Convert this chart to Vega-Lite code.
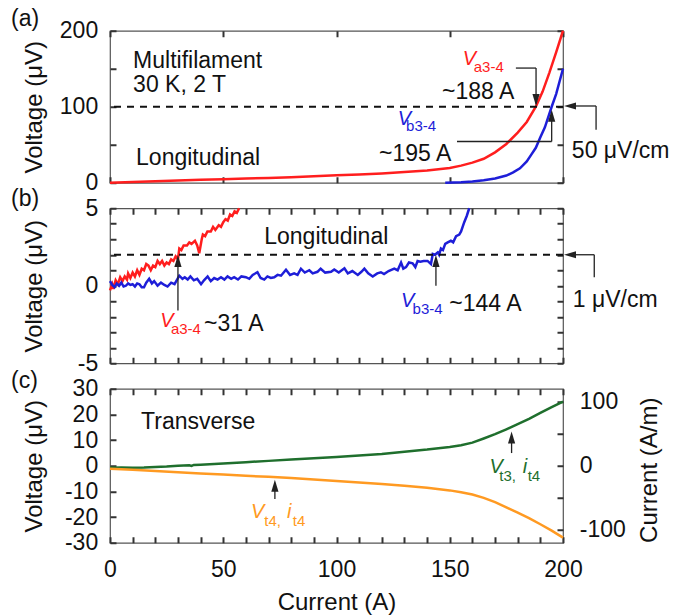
{
"$schema": "https://vega.github.io/schema/vega-lite/v6.json",
"padding": {"left": 10, "top": 7.75, "right": 2, "bottom": 2},
"background": "white",
"config": {
  "font": "Liberation Sans",
  "view": {"stroke": "#555", "strokeWidth": 1.2, "fill": null},
  "axis": {"grid": false, "zindex": 1, "offset": -6, "domain": false, "tickColor": "#333", "tickWidth": 2, "tickSize": 6, "ticks": true, "tickOpacity": 1, "labelFontSize": 23, "labelColor": "#111", "titleFontSize": 24, "titleFontWeight": "normal", "titleColor": "#111", "labelOverlap": false, "labelFlush": false, "labelBound": false},
  "axisLeft": {"labelPadding": 12.3},
  "axisBottom": {"labelPadding": 15.3},
  "axisRight": {"labelPadding": 16.3},
  "axisTop": {"labelPadding": 10},
  "text": {"align": "left", "baseline": "alphabetic"}
},
"datasets": {
  "aCurves": [
    {"I":0,"V":0,"s":"a"},{"I":10,"V":1,"s":"a"},{"I":20,"V":2,"s":"a"},{"I":30,"V":3,"s":"a"},{"I":40,"V":3.8,"s":"a"},{"I":50,"V":4.6,"s":"a"},{"I":60,"V":5.5,"s":"a"},{"I":70,"V":6.4,"s":"a"},{"I":80,"V":7.4,"s":"a"},{"I":90,"V":8.5,"s":"a"},{"I":100,"V":9.8,"s":"a"},{"I":110,"V":11,"s":"a"},{"I":120,"V":12.3,"s":"a"},{"I":130,"V":14,"s":"a"},{"I":140,"V":16.2,"s":"a"},{"I":150,"V":19.5,"s":"a"},{"I":155,"V":22.5,"s":"a"},{"I":160,"V":26.5,"s":"a"},{"I":165,"V":31.5,"s":"a"},{"I":170,"V":40,"s":"a"},{"I":175,"V":51,"s":"a"},{"I":180,"V":66,"s":"a"},{"I":184,"V":80,"s":"a"},{"I":188,"V":100,"s":"a"},{"I":191,"V":120,"s":"a"},{"I":194,"V":145,"s":"a"},{"I":197,"V":172,"s":"a"},{"I":200,"V":200,"s":"a"},
    {"I":148,"V":0,"s":"b"},{"I":155,"V":0.8,"s":"b"},{"I":160,"V":1.8,"s":"b"},{"I":165,"V":3.2,"s":"b"},{"I":170,"V":5.5,"s":"b"},{"I":175,"V":9.5,"s":"b"},{"I":178,"V":13.6,"s":"b"},{"I":181,"V":19,"s":"b"},{"I":184,"V":28,"s":"b"},{"I":186,"V":37,"s":"b"},{"I":188,"V":46,"s":"b"},{"I":190,"V":60,"s":"b"},{"I":192,"V":73,"s":"b"},{"I":195,"V":100,"s":"b"},{"I":197,"V":117,"s":"b"},{"I":200,"V":150,"s":"b"}
  ],
  "aSeg": [
    {"x":179.2,"x2":188.1,"y":150.9,"y2":150.9},{"x":188.1,"x2":188.1,"y":150.9,"y2":104},
    {"x":153.2,"x2":195,"y":54.3,"y2":54.3},{"x":195,"x2":195,"y":54.3,"y2":92},
    {"x":214.6,"x2":214.6,"y":69.7,"y2":101},{"x":214.6,"x2":203,"y":101,"y2":101}
  ],
  "aHeads": [{"x":188.1,"y":109,"d":"down"},{"x":195,"y":88.2,"d":"up"},{"x":203.1,"y":101,"d":"left"}],
  "aText": [
    {"x":-43.7,"y":205.6,"t":"(a)","s":"n"},{"x":10.2,"y":150.9,"t":"Multifilament","s":"n"},{"x":10.2,"y":120,"t":"30 K, 2 T","s":"n"},{"x":11.5,"y":23.7,"t":"Longitudinal","s":"n"},{"x":146.6,"y":110.1,"t":"~188 A","s":"n"},{"x":118.8,"y":29,"t":"~195 A","s":"n"},{"x":203.9,"y":32.5,"t":"50 μV/cm","s":"n"}
  ],
  "aV": [{"x":155.7,"y":155.3,"t":"V","s":"a"},{"x":127,"y":76.3,"t":"V","s":"b"}],
  "aSub": [{"x":160.6,"y":145.7,"t":"a3-4","s":"a"},{"x":130.7,"y":67.5,"t":"b3-4","s":"b"}],
  "bCurves": [
    {"I":0,"V":-0.3,"s":"a"},{"I":1,"V":0.1,"s":"a"},{"I":1.5,"V":-0.2,"s":"a"},{"I":2.5,"V":0.35,"s":"a"},{"I":3.5,"V":0.1,"s":"a"},{"I":4.5,"V":0.55,"s":"a"},{"I":5.5,"V":0.3,"s":"a"},{"I":6.5,"V":0.6,"s":"a"},{"I":7.5,"V":0.4,"s":"a"},{"I":8,"V":0.8,"s":"a"},{"I":9,"V":0.5,"s":"a"},{"I":10,"V":0.85,"s":"a"},{"I":11,"V":0.6,"s":"a"},{"I":12,"V":1.0,"s":"a"},{"I":13,"V":0.7,"s":"a"},{"I":14,"V":1.1,"s":"a"},{"I":15,"V":1.0,"s":"a"},{"I":16,"V":1.4,"s":"a"},{"I":17,"V":1.3,"s":"a"},{"I":18,"V":1.0,"s":"a"},{"I":19,"V":1.3,"s":"a"},{"I":20,"V":1.2,"s":"a"},{"I":21,"V":1.6,"s":"a"},{"I":22,"V":1.4,"s":"a"},{"I":23,"V":1.6,"s":"a"},{"I":24,"V":1.3,"s":"a"},{"I":25,"V":1.5,"s":"a"},{"I":26,"V":1.4,"s":"a"},{"I":27,"V":1.7,"s":"a"},{"I":28,"V":1.6,"s":"a"},{"I":29,"V":1.9,"s":"a"},{"I":30,"V":1.7,"s":"a"},{"I":30.6,"V":2.4,"s":"a"},{"I":31.5,"V":2.3,"s":"a"},{"I":32.5,"V":2.6,"s":"a"},{"I":34,"V":2.6,"s":"a"},{"I":35,"V":2.8,"s":"a"},{"I":36,"V":2.7,"s":"a"},{"I":37.5,"V":2.9,"s":"a"},{"I":38.5,"V":2.6,"s":"a"},{"I":39.4,"V":2.1,"s":"a"},{"I":40.5,"V":3.0,"s":"a"},{"I":41,"V":3.3,"s":"a"},{"I":42,"V":3.2,"s":"a"},{"I":43,"V":3.5,"s":"a"},{"I":44.5,"V":3.5,"s":"a"},{"I":45.5,"V":3.8,"s":"a"},{"I":46.5,"V":3.6,"s":"a"},{"I":48,"V":3.9,"s":"a"},{"I":49,"V":3.8,"s":"a"},{"I":50,"V":4.1,"s":"a"},{"I":51,"V":4.3,"s":"a"},{"I":52,"V":4.2,"s":"a"},{"I":53,"V":4.6,"s":"a"},{"I":54,"V":4.5,"s":"a"},{"I":55,"V":4.8,"s":"a"},{"I":56,"V":4.7,"s":"a"},{"I":57,"V":5.0,"s":"a"},
    {"I":0,"V":0.3,"s":"b"},{"I":1,"V":0.05,"s":"b"},{"I":2,"V":-0.1,"s":"b"},{"I":3,"V":0.15,"s":"b"},{"I":4,"V":0.0,"s":"b"},{"I":5,"V":0.2,"s":"b"},{"I":6,"V":-0.05,"s":"b"},{"I":7,"V":0.0,"s":"b"},{"I":8,"V":0.15,"s":"b"},{"I":9,"V":0.05,"s":"b"},{"I":10,"V":0.1,"s":"b"},{"I":11,"V":-0.05,"s":"b"},{"I":12,"V":0.15,"s":"b"},{"I":13,"V":0.1,"s":"b"},{"I":14,"V":-0.1,"s":"b"},{"I":15,"V":-0.1,"s":"b"},{"I":16,"V":0.2,"s":"b"},{"I":17.3,"V":0.45,"s":"b"},{"I":18.5,"V":0.15,"s":"b"},{"I":19.5,"V":0.3,"s":"b"},{"I":21,"V":0.0,"s":"b"},{"I":22.5,"V":0.2,"s":"b"},{"I":24,"V":0.05,"s":"b"},{"I":25.4,"V":-0.05,"s":"b"},{"I":27,"V":0.2,"s":"b"},{"I":28.5,"V":0.1,"s":"b"},{"I":30.6,"V":0.65,"s":"b"},{"I":32,"V":0.45,"s":"b"},{"I":33,"V":0.55,"s":"b"},{"I":34.3,"V":0.4,"s":"b"},{"I":35.5,"V":0.6,"s":"b"},{"I":37,"V":0.35,"s":"b"},{"I":38.5,"V":0.45,"s":"b"},{"I":40.2,"V":0.1,"s":"b"},{"I":41.5,"V":0.35,"s":"b"},{"I":43.1,"V":0.6,"s":"b"},{"I":44.5,"V":0.3,"s":"b"},{"I":46,"V":0.5,"s":"b"},{"I":47.5,"V":0.4,"s":"b"},{"I":49,"V":0.55,"s":"b"},{"I":50.5,"V":0.4,"s":"b"},{"I":51.9,"V":0.6,"s":"b"},{"I":53.5,"V":0.45,"s":"b"},{"I":54.8,"V":0.55,"s":"b"},{"I":56.5,"V":0.4,"s":"b"},{"I":58,"V":0.6,"s":"b"},{"I":60,"V":0.55,"s":"b"},{"I":61.5,"V":0.45,"s":"b"},{"I":63,"V":0.7,"s":"b"},{"I":65.1,"V":0.87,"s":"b"},{"I":66.5,"V":0.5,"s":"b"},{"I":68.1,"V":0.4,"s":"b"},{"I":69.5,"V":0.6,"s":"b"},{"I":71,"V":0.5,"s":"b"},{"I":72.5,"V":0.55,"s":"b"},{"I":74,"V":0.7,"s":"b"},{"I":75.5,"V":0.65,"s":"b"},{"I":77.7,"V":1.04,"s":"b"},{"I":79.5,"V":0.7,"s":"b"},{"I":81.3,"V":0.8,"s":"b"},{"I":82.8,"V":0.7,"s":"b"},{"I":84.3,"V":1.1,"s":"b"},{"I":86,"V":0.85,"s":"b"},{"I":88,"V":1.0,"s":"b"},{"I":89.5,"V":0.8,"s":"b"},{"I":91.6,"V":0.9,"s":"b"},{"I":93,"V":1.1,"s":"b"},{"I":95,"V":0.85,"s":"b"},{"I":97.6,"V":0.9,"s":"b"},{"I":99,"V":1.05,"s":"b"},{"I":101,"V":0.85,"s":"b"},{"I":103.5,"V":1.13,"s":"b"},{"I":105,"V":0.8,"s":"b"},{"I":107,"V":0.95,"s":"b"},{"I":109.4,"V":0.7,"s":"b"},{"I":111,"V":0.9,"s":"b"},{"I":112.3,"V":1.1,"s":"b"},{"I":114,"V":0.8,"s":"b"},{"I":116,"V":0.6,"s":"b"},{"I":118,"V":0.8,"s":"b"},{"I":119.6,"V":0.87,"s":"b"},{"I":121,"V":0.75,"s":"b"},{"I":123,"V":0.95,"s":"b"},{"I":125.5,"V":1.1,"s":"b"},{"I":127,"V":1.0,"s":"b"},{"I":128.5,"V":1.5,"s":"b"},{"I":129.5,"V":1.1,"s":"b"},{"I":130.7,"V":1.2,"s":"b"},{"I":132,"V":1.5,"s":"b"},{"I":133.6,"V":1.45,"s":"b"},{"I":134.8,"V":1.2,"s":"b"},{"I":135.8,"V":1.6,"s":"b"},{"I":137,"V":1.55,"s":"b"},{"I":138.5,"V":1.6,"s":"b"},{"I":140.2,"V":1.6,"s":"b"},{"I":141.7,"V":1.4,"s":"b"},{"I":142.5,"V":2.05,"s":"b"},{"I":143.5,"V":2.0,"s":"b"},{"I":144.7,"V":2.15,"s":"b"},{"I":145.3,"V":2.0,"s":"b"},{"I":146.1,"V":2.4,"s":"b"},{"I":147,"V":2.3,"s":"b"},{"I":148,"V":2.7,"s":"b"},{"I":149.1,"V":2.8,"s":"b"},{"I":150.5,"V":2.9,"s":"b"},{"I":151.5,"V":2.8,"s":"b"},{"I":152.8,"V":3.2,"s":"b"},{"I":154.2,"V":3.3,"s":"b"},{"I":155,"V":3.5,"s":"b"},{"I":156.4,"V":4.1,"s":"b"},{"I":157.5,"V":4.5,"s":"b"},{"I":158.6,"V":5.0,"s":"b"}
  ],
  "bSeg": [
    {"x":30,"x2":30,"y":-1.6,"y2":1.5},{"x":143.9,"x2":143.9,"y":0,"y2":1.5},
    {"x":213.8,"x2":213.8,"y":0.55,"y2":2},{"x":213.8,"x2":204,"y":2,"y2":2}
  ],
  "bHeads": [{"x":30,"y":1.6,"d":"up"},{"x":143.9,"y":1.6,"d":"up"},{"x":203.1,"y":2,"d":"left"}],
  "bText": [
    {"x":-43.7,"y":5.17,"t":"(b)","s":"n"},{"x":68.1,"y":2.68,"t":"Longitudinal","s":"n"},{"x":41.5,"y":-2.94,"t":"~31 A","s":"n"},{"x":149.8,"y":-1.6,"t":"~144 A","s":"n"},{"x":204.3,"y":-1.39,"t":"1 μV/cm","s":"n"}
  ],
  "bV": [{"x":22.2,"y":-2.68,"t":"V","s":"a"},{"x":128.5,"y":-1.39,"t":"V","s":"b"}],
  "bSub": [{"x":26.9,"y":-3.11,"t":"a3-4","s":"a"},{"x":133.6,"y":-1.82,"t":"b3-4","s":"b"}],
  "cCurves": [
    {"I":0,"V":-0.8,"s":"g"},{"I":5,"V":-0.7,"s":"g"},{"I":10,"V":-0.8,"s":"g"},{"I":15,"V":-0.7,"s":"g"},{"I":20,"V":-0.5,"s":"g"},{"I":25,"V":-0.3,"s":"g"},{"I":30,"V":0,"s":"g"},{"I":35,"V":0.2,"s":"g"},{"I":36,"V":-0.1,"s":"g"},{"I":37,"V":0.3,"s":"g"},{"I":40,"V":0.4,"s":"g"},{"I":50,"V":0.9,"s":"g"},{"I":60,"V":1.4,"s":"g"},{"I":70,"V":1.9,"s":"g"},{"I":80,"V":2.4,"s":"g"},{"I":90,"V":2.9,"s":"g"},{"I":100,"V":3.4,"s":"g"},{"I":110,"V":4.0,"s":"g"},{"I":120,"V":4.6,"s":"g"},{"I":130,"V":5.5,"s":"g"},{"I":140,"V":6.3,"s":"g"},{"I":150,"V":7.3,"s":"g"},{"I":155,"V":8.0,"s":"g"},{"I":160,"V":9.0,"s":"g"},{"I":165,"V":10.6,"s":"g"},{"I":170,"V":12.3,"s":"g"},{"I":175,"V":14.2,"s":"g"},{"I":180,"V":16.2,"s":"g"},{"I":185,"V":18.3,"s":"g"},{"I":190,"V":20.6,"s":"g"},{"I":195,"V":22.8,"s":"g"},{"I":200,"V":25,"s":"g"},
    {"I":0,"V":-1.2,"s":"o"},{"I":10,"V":-1.6,"s":"o"},{"I":20,"V":-2.0,"s":"o"},{"I":30,"V":-2.5,"s":"o"},{"I":40,"V":-3.0,"s":"o"},{"I":50,"V":-3.4,"s":"o"},{"I":60,"V":-3.9,"s":"o"},{"I":70,"V":-4.3,"s":"o"},{"I":80,"V":-4.8,"s":"o"},{"I":90,"V":-5.4,"s":"o"},{"I":100,"V":-5.9,"s":"o"},{"I":110,"V":-6.5,"s":"o"},{"I":120,"V":-7.1,"s":"o"},{"I":130,"V":-7.8,"s":"o"},{"I":140,"V":-8.6,"s":"o"},{"I":150,"V":-9.6,"s":"o"},{"I":155,"V":-10.3,"s":"o"},{"I":160,"V":-11.2,"s":"o"},{"I":165,"V":-12.5,"s":"o"},{"I":170,"V":-14.2,"s":"o"},{"I":175,"V":-16.2,"s":"o"},{"I":180,"V":-18.3,"s":"o"},{"I":185,"V":-20.4,"s":"o"},{"I":190,"V":-22.8,"s":"o"},{"I":195,"V":-25.3,"s":"o"},{"I":200,"V":-28,"s":"o"}
  ],
  "cSeg": [{"x":72.8,"x2":72.8,"y":-13,"y2":-7},{"x":177.3,"x2":177.3,"y":4.95,"y2":11.5}],
  "cHeads": [{"x":72.8,"y":-7.8,"d":"up"},{"x":177.3,"y":11,"d":"up"}],
  "cText": [{"x":-43.7,"y":30.3,"t":"(c)","s":"n"},{"x":13.7,"y":14.3,"t":"Transverse","s":"n"}],
  "cV": [{"x":62.3,"y":-20.4,"t":"V","s":"o"},{"x":78.1,"y":-20.4,"t":"i","s":"o"},{"x":167.5,"y":-2.84,"t":"V","s":"g"},{"x":182.2,"y":-2.84,"t":"i","s":"g"}],
  "cSub": [{"x":68.1,"y":-23.6,"t":"t4,","s":"o"},{"x":80.7,"y":-23.6,"t":"t4","s":"o"},{"x":171.9,"y":-6.1,"t":"t3,","s":"g"},{"x":184.4,"y":-6.1,"t":"t4","s":"g"}],
  "cRight": [{"c":0}],
  "aRule": [{"V":100}],
  "bRule": [{"V":2}]
},
"spacing": 25.5,
"bounds": "flush",
"vconcat": [
  {
    "width": 453, "height": 152,
    "resolve": {"axis": {"x": "independent", "y": "independent"}},
    "layer": [
      {"data": {"name": "aCurves"}, "mark": {"type": "line", "strokeWidth": 2.5},
       "encoding": {
         "x": {"field": "I", "type": "quantitative", "scale": {"domain": [0, 200], "nice": false, "zero": false}, "axis": {"orient": "bottom", "ticks": true, "tickSize": 6, "tickWidth": 2, "tickColor": "#333", "values": [0, 50, 100, 150, 200], "labels": false, "title": null}},
         "y": {"field": "V", "type": "quantitative", "scale": {"domain": [0, 200], "nice": false, "zero": false}, "axis": {"orient": "left", "ticks": true, "tickSize": 6, "tickWidth": 2, "tickColor": "#333", "values": [0, 50, 100, 150, 200], "labelExpr": "datum.value % 100 === 0 ? '' + datum.value : ''", "title": "Voltage (μV)", "titleX": -75, "titleY": 76, "titleAngle": 270, "titleAlign": "center", "titleBaseline": "alphabetic"}},
         "color": {"field": "s", "type": "nominal", "scale": {"domain": ["a", "b", "g", "o", "n"], "range": ["#ff1e1e", "#1e1ed8", "#1f6f2d", "#ff9a22", "#111111"]}, "legend": null}
       }},
      {"data": {"name": "aRule"}, "mark": {"type": "rule", "strokeDash": [7, 6], "strokeWidth": 2, "color": "#111"},
       "encoding": {"y": {"field": "V", "type": "quantitative", "scale": {"domain": [0, 200], "nice": false, "zero": false}, "axis": null}}},
      {"data": {"name": "aSeg"}, "mark": {"type": "rule", "color": "#222", "strokeWidth": 1.3},
       "encoding": {
         "x": {"field": "x", "type": "quantitative", "scale": {"domain": [0, 200], "nice": false, "zero": false}, "axis": {"orient": "top", "ticks": true, "tickSize": 6, "tickWidth": 2, "tickColor": "#333", "values": [0, 50, 100, 150, 200], "labels": false, "title": null}},
         "x2": {"field": "x2"},
         "y": {"field": "y", "type": "quantitative", "scale": {"domain": [0, 200], "nice": false, "zero": false}, "axis": {"orient": "right", "ticks": true, "tickSize": 6, "tickWidth": 2, "tickColor": "#333", "values": [0, 50, 100, 150, 200], "labels": false, "title": null}},
         "y2": {"field": "y2"}
       }},
      {"data": {"name": "aHeads"}, "mark": {"type": "point", "filled": true, "size": 144, "opacity": 1, "color": "#222", "strokeWidth": 0},
       "encoding": {
         "x": {"field": "x", "type": "quantitative", "scale": {"domain": [0, 200], "nice": false, "zero": false}, "axis": null},
         "y": {"field": "y", "type": "quantitative", "scale": {"domain": [0, 200], "nice": false, "zero": false}, "axis": null},
         "shape": {"field": "d", "type": "nominal", "scale": {"domain": ["down", "up", "left"], "range": ["M-0.6,-1L0.6,-1L0,1Z", "M-0.6,1L0.6,1L0,-1Z", "M1,-0.6L1,0.6L-1,0Z"]}, "legend": null}
       }},
      {"data": {"name": "aText"}, "mark": {"type": "text", "fontSize": 23},
       "encoding": {
         "x": {"field": "x", "type": "quantitative", "scale": {"domain": [0, 200], "nice": false, "zero": false}, "axis": null},
         "y": {"field": "y", "type": "quantitative", "scale": {"domain": [0, 200], "nice": false, "zero": false}, "axis": null},
         "text": {"field": "t"},
         "color": {"field": "s", "type": "nominal", "scale": {"domain": ["a", "b", "g", "o", "n"], "range": ["#ff1e1e", "#1e1ed8", "#1f6f2d", "#ff9a22", "#111111"]}, "legend": null}
       }},
      {"data": {"name": "aV"}, "mark": {"type": "text", "fontSize": 20, "fontStyle": "italic"},
       "encoding": {
         "x": {"field": "x", "type": "quantitative", "scale": {"domain": [0, 200], "nice": false, "zero": false}, "axis": null},
         "y": {"field": "y", "type": "quantitative", "scale": {"domain": [0, 200], "nice": false, "zero": false}, "axis": null},
         "text": {"field": "t"},
         "color": {"field": "s", "type": "nominal", "scale": {"domain": ["a", "b", "g", "o", "n"], "range": ["#ff1e1e", "#1e1ed8", "#1f6f2d", "#ff9a22", "#111111"]}, "legend": null}
       }},
      {"data": {"name": "aSub"}, "mark": {"type": "text", "fontSize": 15},
       "encoding": {
         "x": {"field": "x", "type": "quantitative", "scale": {"domain": [0, 200], "nice": false, "zero": false}, "axis": null},
         "y": {"field": "y", "type": "quantitative", "scale": {"domain": [0, 200], "nice": false, "zero": false}, "axis": null},
         "text": {"field": "t"},
         "color": {"field": "s", "type": "nominal", "scale": {"domain": ["a", "b", "g", "o", "n"], "range": ["#ff1e1e", "#1e1ed8", "#1f6f2d", "#ff9a22", "#111111"]}, "legend": null}
       }}
    ]
  },
  {
    "width": 453, "height": 155,
    "resolve": {"axis": {"x": "independent", "y": "independent"}},
    "layer": [
      {"data": {"name": "bCurves"}, "mark": {"type": "line", "strokeWidth": 2.5},
       "encoding": {
         "x": {"field": "I", "type": "quantitative", "scale": {"domain": [0, 200], "nice": false, "zero": false}, "axis": {"orient": "bottom", "ticks": true, "tickSize": 6, "tickWidth": 2, "tickColor": "#333", "values": [0,10,20,30,40,50,60,70,80,90,100,110,120,130,140,150,160,170,180,190,200], "labels": false, "title": null}},
         "y": {"field": "V", "type": "quantitative", "scale": {"domain": [-5, 5], "nice": false, "zero": false}, "axis": {"orient": "left", "ticks": true, "tickSize": 6, "tickWidth": 2, "tickColor": "#333", "values": [-5,-4,-3,-2,-1,0,1,2,3,4,5], "labelExpr": "datum.value % 5 === 0 ? '' + datum.value : ''", "title": "Voltage (μV)", "titleX": -75, "titleY": 77.5, "titleAngle": 270, "titleAlign": "center", "titleBaseline": "alphabetic"}},
         "color": {"field": "s", "type": "nominal", "scale": {"domain": ["a", "b", "g", "o", "n"], "range": ["#ff1e1e", "#1e1ed8", "#1f6f2d", "#ff9a22", "#111111"]}, "legend": null}
       }},
      {"data": {"name": "bRule"}, "mark": {"type": "rule", "strokeDash": [7, 6], "strokeWidth": 2, "color": "#111"},
       "encoding": {"y": {"field": "V", "type": "quantitative", "scale": {"domain": [-5, 5], "nice": false, "zero": false}, "axis": null}}},
      {"data": {"name": "bSeg"}, "mark": {"type": "rule", "color": "#222", "strokeWidth": 1.3},
       "encoding": {
         "x": {"field": "x", "type": "quantitative", "scale": {"domain": [0, 200], "nice": false, "zero": false}, "axis": {"orient": "top", "ticks": true, "tickSize": 6, "tickWidth": 2, "tickColor": "#333", "values": [0,10,20,30,40,50,60,70,80,90,100,110,120,130,140,150,160,170,180,190,200], "labels": false, "title": null}},
         "x2": {"field": "x2"},
         "y": {"field": "y", "type": "quantitative", "scale": {"domain": [-5, 5], "nice": false, "zero": false}, "axis": {"orient": "right", "ticks": true, "tickSize": 6, "tickWidth": 2, "tickColor": "#333", "values": [-5,-4,-3,-2,-1,0,1,2,3,4,5], "labels": false, "title": null}},
         "y2": {"field": "y2"}
       }},
      {"data": {"name": "bHeads"}, "mark": {"type": "point", "filled": true, "size": 144, "opacity": 1, "color": "#222", "strokeWidth": 0},
       "encoding": {
         "x": {"field": "x", "type": "quantitative", "scale": {"domain": [0, 200], "nice": false, "zero": false}, "axis": null},
         "y": {"field": "y", "type": "quantitative", "scale": {"domain": [-5, 5], "nice": false, "zero": false}, "axis": null},
         "shape": {"field": "d", "type": "nominal", "scale": {"domain": ["down", "up", "left"], "range": ["M-0.6,-1L0.6,-1L0,1Z", "M-0.6,1L0.6,1L0,-1Z", "M1,-0.6L1,0.6L-1,0Z"]}, "legend": null}
       }},
      {"data": {"name": "bText"}, "mark": {"type": "text", "fontSize": 23},
       "encoding": {
         "x": {"field": "x", "type": "quantitative", "scale": {"domain": [0, 200], "nice": false, "zero": false}, "axis": null},
         "y": {"field": "y", "type": "quantitative", "scale": {"domain": [-5, 5], "nice": false, "zero": false}, "axis": null},
         "text": {"field": "t"},
         "color": {"field": "s", "type": "nominal", "scale": {"domain": ["a", "b", "g", "o", "n"], "range": ["#ff1e1e", "#1e1ed8", "#1f6f2d", "#ff9a22", "#111111"]}, "legend": null}
       }},
      {"data": {"name": "bV"}, "mark": {"type": "text", "fontSize": 20, "fontStyle": "italic"},
       "encoding": {
         "x": {"field": "x", "type": "quantitative", "scale": {"domain": [0, 200], "nice": false, "zero": false}, "axis": null},
         "y": {"field": "y", "type": "quantitative", "scale": {"domain": [-5, 5], "nice": false, "zero": false}, "axis": null},
         "text": {"field": "t"},
         "color": {"field": "s", "type": "nominal", "scale": {"domain": ["a", "b", "g", "o", "n"], "range": ["#ff1e1e", "#1e1ed8", "#1f6f2d", "#ff9a22", "#111111"]}, "legend": null}
       }},
      {"data": {"name": "bSub"}, "mark": {"type": "text", "fontSize": 15},
       "encoding": {
         "x": {"field": "x", "type": "quantitative", "scale": {"domain": [0, 200], "nice": false, "zero": false}, "axis": null},
         "y": {"field": "y", "type": "quantitative", "scale": {"domain": [-5, 5], "nice": false, "zero": false}, "axis": null},
         "text": {"field": "t"},
         "color": {"field": "s", "type": "nominal", "scale": {"domain": ["a", "b", "g", "o", "n"], "range": ["#ff1e1e", "#1e1ed8", "#1f6f2d", "#ff9a22", "#111111"]}, "legend": null}
       }}
    ]
  },
  {
    "width": 453, "height": 154,
    "resolve": {"scale": {"y": "independent"}, "axis": {"x": "independent", "y": "independent"}},
    "layer": [
      {"data": {"name": "cCurves"}, "mark": {"type": "line", "strokeWidth": 2.5},
       "encoding": {
         "x": {"field": "I", "type": "quantitative", "scale": {"domain": [0, 200], "nice": false, "zero": false}, "axis": {"orient": "bottom", "ticks": true, "tickSize": 6, "tickWidth": 2, "tickColor": "#333", "values": [0,10,20,30,40,50,60,70,80,90,100,110,120,130,140,150,160,170,180,190,200], "labelExpr": "datum.value % 50 === 0 ? '' + datum.value : ''", "title": "Current (A)", "titleX": 226.5, "titleY": 73, "titleAlign": "center", "titleBaseline": "alphabetic"}},
         "y": {"field": "V", "type": "quantitative", "scale": {"domain": [-30, 30], "nice": false, "zero": false}, "axis": {"orient": "left", "ticks": true, "tickSize": 6, "tickWidth": 2, "tickColor": "#333", "values": [-30,-20,-10,0,10,20,30], "labelExpr": "'' + datum.value", "title": "Voltage (μV)", "titleX": -75, "titleY": 77, "titleAngle": 270, "titleAlign": "center", "titleBaseline": "alphabetic"}},
         "color": {"field": "s", "type": "nominal", "scale": {"domain": ["a", "b", "g", "o", "n"], "range": ["#ff1e1e", "#1e1ed8", "#1f6f2d", "#ff9a22", "#111111"]}, "legend": null}
       }},
      {"data": {"name": "cSeg"}, "mark": {"type": "rule", "color": "#222", "strokeWidth": 1.3},
       "encoding": {
         "x": {"field": "x", "type": "quantitative", "scale": {"domain": [0, 200], "nice": false, "zero": false}, "axis": {"orient": "top", "ticks": true, "tickSize": 6, "tickWidth": 2, "tickColor": "#333", "values": [0,10,20,30,40,50,60,70,80,90,100,110,120,130,140,150,160,170,180,190,200], "labels": false, "title": null}},
         "x2": {"field": "x2"},
         "y": {"field": "y", "type": "quantitative", "scale": {"domain": [-30, 30], "nice": false, "zero": false}, "axis": null},
         "y2": {"field": "y2"}
       }},
      {"data": {"name": "cHeads"}, "mark": {"type": "point", "filled": true, "size": 144, "opacity": 1, "color": "#222", "strokeWidth": 0},
       "encoding": {
         "x": {"field": "x", "type": "quantitative", "scale": {"domain": [0, 200], "nice": false, "zero": false}, "axis": null},
         "y": {"field": "y", "type": "quantitative", "scale": {"domain": [-30, 30], "nice": false, "zero": false}, "axis": null},
         "shape": {"field": "d", "type": "nominal", "scale": {"domain": ["down", "up", "left"], "range": ["M-0.6,-1L0.6,-1L0,1Z", "M-0.6,1L0.6,1L0,-1Z", "M1,-0.6L1,0.6L-1,0Z"]}, "legend": null}
       }},
      {"data": {"name": "cText"}, "mark": {"type": "text", "fontSize": 23},
       "encoding": {
         "x": {"field": "x", "type": "quantitative", "scale": {"domain": [0, 200], "nice": false, "zero": false}, "axis": null},
         "y": {"field": "y", "type": "quantitative", "scale": {"domain": [-30, 30], "nice": false, "zero": false}, "axis": null},
         "text": {"field": "t"},
         "color": {"field": "s", "type": "nominal", "scale": {"domain": ["a", "b", "g", "o", "n"], "range": ["#ff1e1e", "#1e1ed8", "#1f6f2d", "#ff9a22", "#111111"]}, "legend": null}
       }},
      {"data": {"name": "cV"}, "mark": {"type": "text", "fontSize": 20, "fontStyle": "italic"},
       "encoding": {
         "x": {"field": "x", "type": "quantitative", "scale": {"domain": [0, 200], "nice": false, "zero": false}, "axis": null},
         "y": {"field": "y", "type": "quantitative", "scale": {"domain": [-30, 30], "nice": false, "zero": false}, "axis": null},
         "text": {"field": "t"},
         "color": {"field": "s", "type": "nominal", "scale": {"domain": ["a", "b", "g", "o", "n"], "range": ["#ff1e1e", "#1e1ed8", "#1f6f2d", "#ff9a22", "#111111"]}, "legend": null}
       }},
      {"data": {"name": "cSub"}, "mark": {"type": "text", "fontSize": 15},
       "encoding": {
         "x": {"field": "x", "type": "quantitative", "scale": {"domain": [0, 200], "nice": false, "zero": false}, "axis": null},
         "y": {"field": "y", "type": "quantitative", "scale": {"domain": [-30, 30], "nice": false, "zero": false}, "axis": null},
         "text": {"field": "t"},
         "color": {"field": "s", "type": "nominal", "scale": {"domain": ["a", "b", "g", "o", "n"], "range": ["#ff1e1e", "#1e1ed8", "#1f6f2d", "#ff9a22", "#111111"]}, "legend": null}
       }},
      {"data": {"name": "cRight"}, "mark": {"type": "point", "opacity": 0},
       "encoding": {
         "y": {"field": "c", "type": "quantitative", "scale": {"domain": [-120, 120], "nice": false, "zero": false}, "axis": {"orient": "right", "ticks": true, "tickSize": 6, "tickWidth": 2, "tickColor": "#333", "values": [-100, -50, 0, 50, 100], "labelExpr": "datum.value % 100 === 0 ? '' + datum.value : ''", "title": "Current (A/m)", "titleX": 99, "titleY": 81, "titleAngle": 270, "titleAlign": "center", "titleBaseline": "alphabetic"}}
       }}
    ]
  }
]
}
